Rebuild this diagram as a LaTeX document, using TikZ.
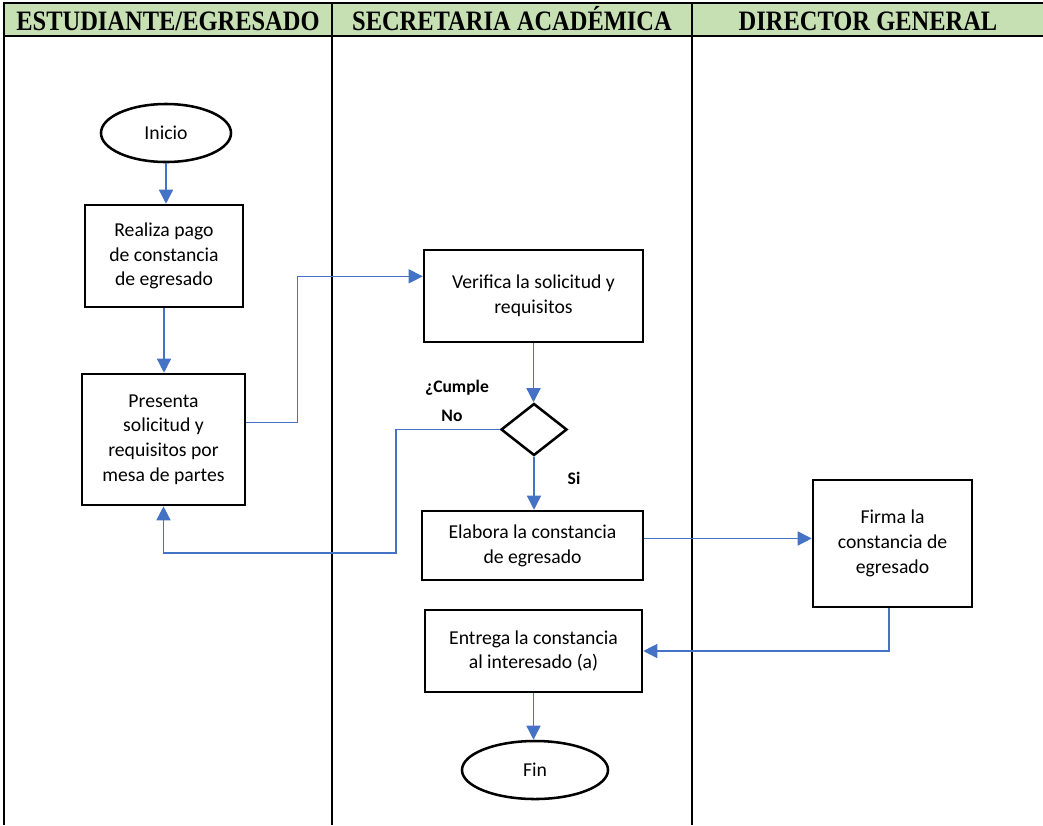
\documentclass[tikz,border=0pt]{standalone}
\usepackage{fontspec}
\setmainfont{Carlito}
\newfontfamily\headfont{Liberation Serif}
\usetikzlibrary{arrows.meta,shapes.geometric}
\definecolor{lanegreen}{HTML}{C6E0B4}
\definecolor{flowblue}{HTML}{4472C4}
\newcommand{\headtext}[1]{\scalebox{0.87}[1]{#1}}

\begin{document}
\begin{tikzpicture}[x=0.025cm,y=-0.025cm,
    proc/.style={draw,line width=1.8pt,align=center,inner sep=0pt,
      font=\fontsize{14}{17.6}\selectfont},
    term/.style={draw,ellipse,line width=1.8pt,inner sep=0pt,
      font=\fontsize{14}{17.6}\selectfont},
    flow/.style={draw=flowblue,line width=1pt,-{Triangle[width=10pt,length=10pt]}},
    lanehead/.style={anchor=base,inner sep=0pt,
      font=\headfont\bfseries\fontsize{20}{22}\selectfont},
    note/.style={font=\bfseries\fontsize{12.5}{14}\selectfont}]
  \useasboundingbox (0,0) rectangle (1043,825);
  % lanes
  \fill[lanegreen] (3,3) rectangle (1043,36);
  \draw[line width=1.5pt] (3,3) -- (1043,3);
  \draw[line width=1.5pt] (3,36) -- (1043,36);
  \draw[line width=1.4pt] (4,3) -- (4,825);
  \draw[line width=1.4pt] (332,3) -- (332,825);
  \draw[line width=1.4pt] (692,3) -- (692,825);
  \node[lanehead] (h1) at (168,30) {\headtext{ESTUDIANTE/EGRESADO}};
  \node[lanehead] (h2) at (512,30) {\headtext{SECRETARIA ACADÉMICA}};
  \node[lanehead] (h3) at (868,30) {\headtext{DIRECTOR GENERAL}};
  % steps
  \node[term,minimum width=3.25cm,minimum height=1.45cm] (ini) at (166,133) {Inicio};
  \node[proc,minimum width=3.95cm,minimum height=2.55cm] (real) at (164,256)
    {Realiza pago\\de constancia\\de egresado};
  \node[proc,minimum width=4.075cm,minimum height=3.275cm] (pres) at (163.5,439.5)
    {Presenta\\solicitud y\\requisitos por\\mesa de partes};
  \node[proc,minimum width=5.475cm,minimum height=2.3cm] (ver) at (533.5,296)
    {Verifica la solicitud y\\requisitos};
  \node[draw,diamond,line width=1.8pt,inner sep=0pt,minimum width=1.65cm,
    minimum height=1.3cm] (dia) at (534,429.5) {};
  \node[proc,minimum width=5.525cm,minimum height=1.725cm] (ela) at (532.5,545.5)
    {Elabora la constancia\\de egresado};
  \node[proc,minimum width=3.975cm,minimum height=3.175cm] (fir) at (892.5,543.5)
    {Firma la\\constancia de\\egresado};
  \node[proc,minimum width=5.425cm,minimum height=2.05cm] (ent) at (533.5,651)
    {Entrega la constancia\\al interesado (a)};
  \node[term,minimum width=3.65cm,minimum height=1.45cm] (fin) at (535,770) {Fin};
  % labels
  \node[note] (cum) at (457,388) {¿Cumple};
  \node[note] (no) at (452,416) {No};
  \node[note] (si) at (574,478) {Si};
  % connectors
  \draw[flow] (ini.south) -- (ini.south |- real.north);
  \draw[flow] (real.south) -- (real.south |- pres.north);
  \draw[flow] ([yshift=12pt]pres.east) -- ++(51,0) |- ([yshift=14pt]ver.west);
  \draw[flow] (ver.south) -- (ver.south |- dia.north);
  \draw[flow] (dia.west) -| (396,553) -| (pres.south);
  \draw[flow] (dia.south) -- (dia.south |- ela.north);
  \draw[flow] ([yshift=5pt]ela.east) -- ([yshift=5pt]ela.east -| fir.west);
  \draw[flow] ([xshift=-2.5pt]fir.south) |- (ent.east);
  \draw[flow] (ent.south) -- (ent.south |- fin.north);
\end{tikzpicture}
\end{document}
